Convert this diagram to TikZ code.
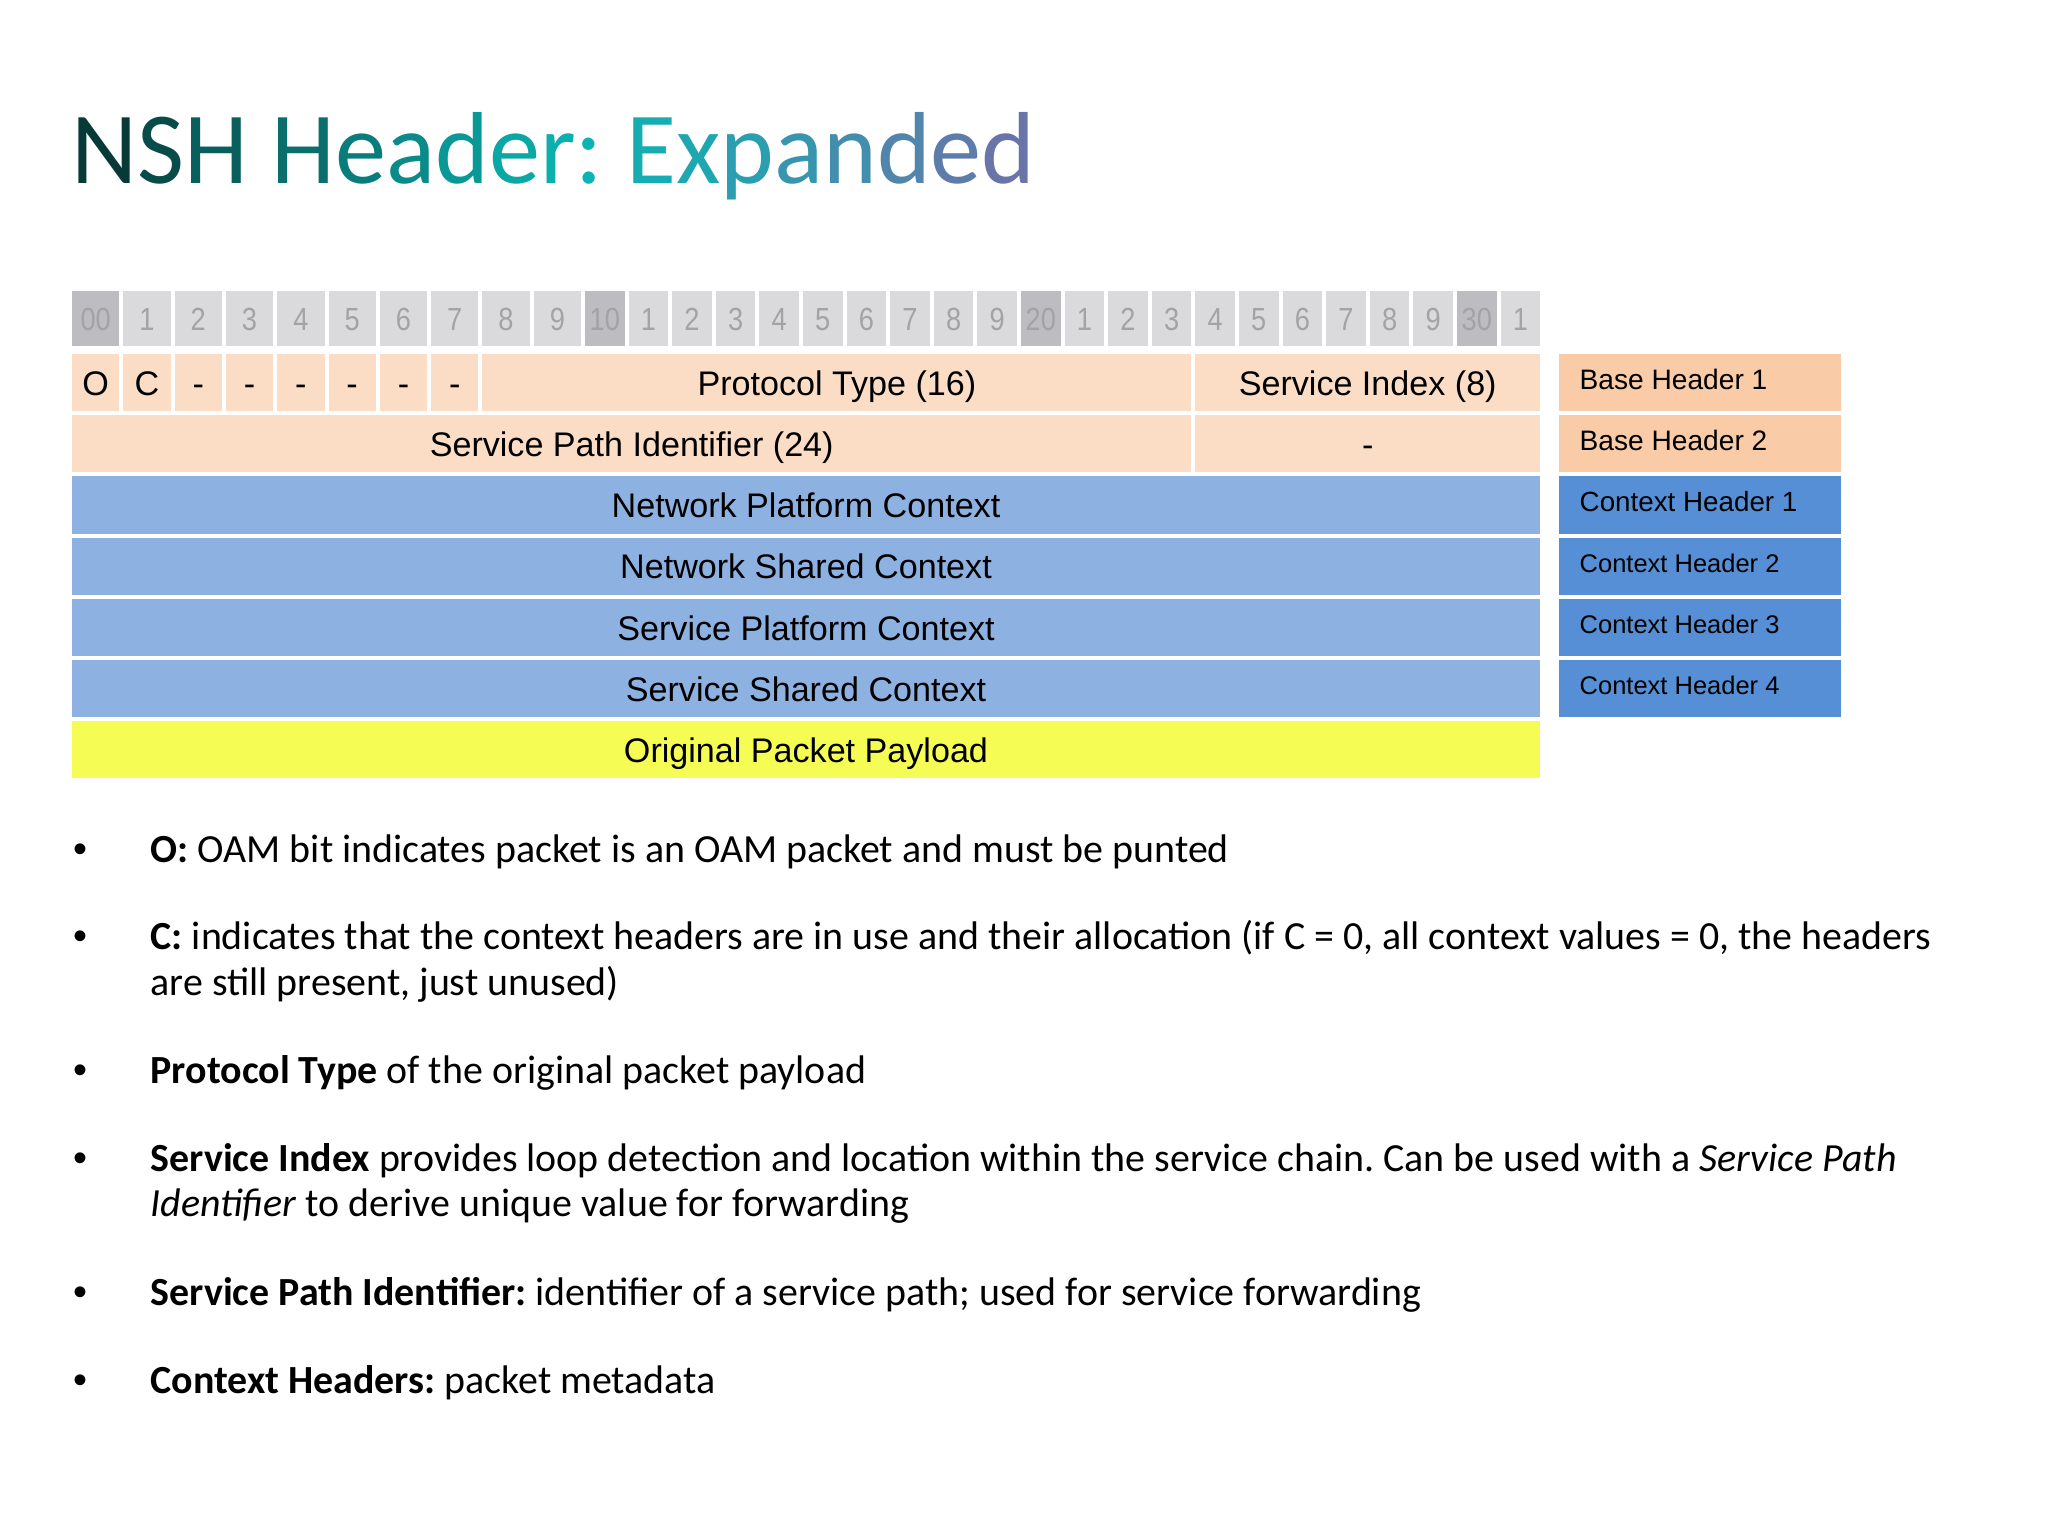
\documentclass[tikz,border=0pt]{standalone}
\usepackage{fontspec}
\setmainfont{Carlito}
\newfontfamily\arial{Liberation Sans}
\newfontfamily\rulerfont[FakeStretch=0.85]{Liberation Sans}
\frenchspacing

\definecolor{rulergray}{HTML}{DADADD}
\definecolor{rulerdark}{HTML}{BDBDC1}
\definecolor{digitgray}{HTML}{A3A3A6}
\definecolor{peach}{HTML}{FADDC4}
\definecolor{peachdark}{HTML}{F9CBA7}
\definecolor{lightblue}{HTML}{8DB1E1}
\definecolor{midblue}{HTML}{568FD6}
\definecolor{payload}{HTML}{F5FD55}
\definecolor{ttdark}{HTML}{073A37}
\definecolor{ttmid}{HTML}{0BB4B2}
\definecolor{ttend}{HTML}{6C72A8}

\tikzset{
  field/.style={font=\arial\fontsize{9.7}{11}\selectfont, inner sep=0pt, text height=0.92em, text depth=0.2em},
  bitlabel/.style={font=\rulerfont\fontsize{9.1}{10}\selectfont, text=digitgray, inner sep=0pt},
  side/.style={font=\arial\fontsize{8}{9}\selectfont, anchor=west, inner sep=0pt},
  item/.style={font=\fontsize{11.35}{13}\selectfont, anchor=base west, inner sep=0pt},
  dot/.style={font=\arial\fontsize{11.35}{13}\selectfont, anchor=base, inner sep=0pt},
}

\begin{document}
\begin{tikzpicture}[x=0.01cm, y=-0.01cm]
\useasboundingbox (0,0) rectangle (2048,1536);
\fill[white] (0,0) rectangle (2048,1536);

% Title
\node[anchor=base west, inner sep=0pt, font=\fontsize{29.1}{32}\selectfont] (title) at (71,183)
  {\textcolor{ttdark}{N}\textcolor{ttmid!15!ttdark}{S}\textcolor{ttmid!30!ttdark}{H} \textcolor{ttmid!43!ttdark}{H}\textcolor{ttmid!55!ttdark}{e}\textcolor{ttmid!66!ttdark}{a}\textcolor{ttmid!77!ttdark}{d}\textcolor{ttmid!89!ttdark}{e}\textcolor{ttmid!97!ttdark}{r}\textcolor{ttmid}{:} \textcolor{ttend!10!ttmid}{E}\textcolor{ttend!20!ttmid}{x}\textcolor{ttend!33!ttmid}{p}\textcolor{ttend!45!ttmid}{a}\textcolor{ttend!58!ttmid}{n}\textcolor{ttend!72!ttmid}{d}\textcolor{ttend!85!ttmid}{e}\textcolor{ttend!97!ttmid}{d}};

% Bit ruler
\foreach \i in {0,...,31} {
  \pgfmathsetmacro\bl{\i<10 ? 72+51.3*\i : 585+43.6*(\i-10)}
  \pgfmathsetmacro\bw{\i<10 ? 47.3 : 39.6}
  \pgfmathtruncatemacro\d{mod(\i,10)}
  \ifnum\d=0 \def\cf{rulerdark}\def\lab{\i}\else\def\cf{rulergray}\def\lab{\d}\fi
  \ifnum\i=0 \def\lab{00}\fi
  \fill[\cf] (\bl,291) rectangle ++(\bw,55);
  \node[bitlabel] (bit\i) at (\bl+\bw/2,319.5) {\lab};
}

% Base header 1
\foreach \i/\lab in {0/O,1/C,2/-,3/-,4/-,5/-,6/-,7/-} {
  \pgfmathsetmacro\bl{72+51.3*\i}
  \fill[peach] (\bl,354) rectangle ++(47.3,57.2);
  \node[field] (flag\i) at (\bl+23.65,382.6) {\lab};
}
\fill[peach] (482.4,354) rectangle (1191.4,411.2);
\node[field] (pt) at (836.9,382.6) {Protocol Type (16)};
\fill[peach] (1195.4,354) rectangle (1540,411.2);
\node[field] (si) at (1367.7,382.6) {Service Index (8)};

% Base header 2
\fill[peach] (72,415.2) rectangle (1191.4,472.4);
\node[field] (spi) at (631.7,443.8) {Service Path Identifier (24)};
\fill[peach] (1195.4,415.2) rectangle (1540,472.4);
\node[field] (rsv) at (1367.7,443.8) {-};

% Context headers and payload
\fill[lightblue] (72,476.4) rectangle (1540,533.6);
\node[field] (npc) at (806,505) {Network Platform Context};
\fill[lightblue] (72,537.6) rectangle (1540,594.8);
\node[field] (nsc) at (806,566.2) {Network Shared Context};
\fill[lightblue] (72,598.8) rectangle (1540,656);
\node[field] (spc) at (806,627.4) {Service Platform Context};
\fill[lightblue] (72,660) rectangle (1540,717.2);
\node[field] (ssc) at (806,688.6) {Service Shared Context};
\fill[payload] (72,721.2) rectangle (1540,778.4);
\node[field] (opp) at (806,749.8) {Original Packet Payload};

% Side labels
\fill[peachdark] (1559,354) rectangle (1841,411.2);
\node[side] (bh1) at (1579,379.6) {Base Header 1};
\fill[peachdark] (1559,415.2) rectangle (1841,472.4);
\node[side] (bh2) at (1579,440.8) {Base Header 2};
\fill[midblue] (1559,476.4) rectangle (1841,533.6);
\node[side, font=\arial\fontsize{7.9}{9}\selectfont] (ch1) at (1579,502) {Context Header 1};
\fill[midblue] (1559,537.6) rectangle (1841,594.8);
\node[side, font=\arial\fontsize{7.25}{9}\selectfont] (ch2) at (1579,563.2) {Context Header 2};
\fill[midblue] (1559,598.8) rectangle (1841,656);
\node[side, font=\arial\fontsize{7.25}{9}\selectfont] (ch3) at (1579,624.4) {Context Header 3};
\fill[midblue] (1559,660) rectangle (1841,717.2);
\node[side, font=\arial\fontsize{7.25}{9}\selectfont] (ch4) at (1579,685.6) {Context Header 4};

% Notes
\node[dot] (b1) at (80,862.5) {•};
\node[item] (o) at (150,862.5) {\textbf{O:} OAM bit indicates packet is an OAM packet and must be punted};
\node[dot] (b2) at (80,949.5) {•};
\node[item] (c) at (150,949.5) {\textbf{C:} indicates that the context headers are in use and their allocation (if C = 0, all context values = 0, the headers};
\node[item] (c2) at (150,995.5) {are still present, just unused)};
\node[dot] (b3) at (80,1083.5) {•};
\node[item] (proto) at (150,1083.5) {\textbf{Protocol Type} of the original packet payload};
\node[dot] (b4) at (80,1171.5) {•};
\node[item] (index) at (150,1171.5) {\textbf{Service Index} provides loop detection and location within the service chain. Can be used with a \textit{Service Path}};
\node[item] (index2) at (150,1216.5) {\textit{Identifier} to derive unique value for forwarding};
\node[dot] (b5) at (80,1305.5) {•};
\node[item] (path) at (150,1305.5) {\textbf{Service Path Identifier:} identifier of a service path; used for service forwarding};
\node[dot] (b6) at (80,1393.5) {•};
\node[item] (ctx) at (150,1393.5) {\textbf{Context Headers:} packet metadata};

\end{tikzpicture}
\end{document}
